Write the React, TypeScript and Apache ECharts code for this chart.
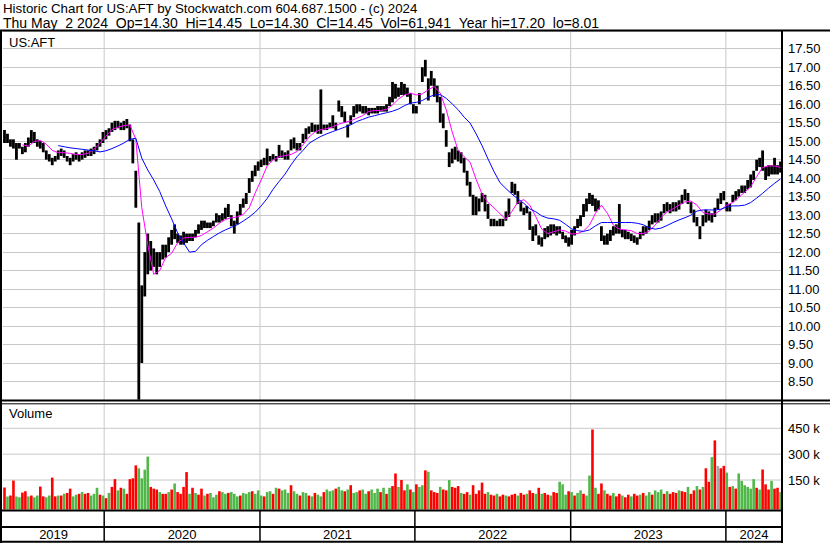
import React, { useEffect, useRef } from 'react';
import * as echarts from 'echarts';

// Weekly price ranges (one entry per week, May 2019 - May 2024)
const weekHigh = [
  15.30, 15.20, 15.05, 15.05, 14.95, 14.95, 14.85, 14.95, 15.10, 15.30,
  15.25, 15.05, 15.00, 14.95, 14.75, 14.65, 14.55, 14.60, 14.75, 14.80,
  14.75, 14.60, 14.55, 14.65, 14.70, 14.65, 14.70, 14.75, 14.75, 14.80,
  14.85, 14.95, 15.05, 15.25, 15.30, 15.35, 15.50, 15.55, 15.55, 15.50,
  15.55, 15.60, 15.45, 15.05, 14.20, 12.80, 11.10, 12.00, 12.50, 12.30,
  12.10, 12.00, 12.00, 12.20, 12.20, 12.40, 12.60, 12.75, 12.50, 12.45,
  12.55, 12.50, 12.50, 12.50, 12.60, 12.75, 12.85, 12.85, 12.80, 12.80,
  12.85, 13.05, 13.00, 13.05, 13.20, 13.30, 13.00, 12.85, 13.10, 13.30,
  13.45, 13.60, 14.00, 14.20, 14.35, 14.45, 14.50, 14.55, 14.80, 14.60,
  14.65, 14.60, 14.90, 14.75, 14.70, 14.75, 15.05, 15.10, 14.95, 14.95,
  15.20, 15.35, 15.40, 15.50, 15.45, 15.45, 16.40, 15.45, 15.45, 15.50,
  15.70, 15.50, 16.10, 15.95, 15.80, 15.45, 15.70, 15.95, 16.00, 16.00,
  15.95, 15.95, 15.90, 15.90, 15.90, 15.95, 15.95, 15.95, 16.00, 16.20,
  16.60, 16.55, 16.45, 16.60, 16.55, 16.45, 16.30, 16.00, 15.95, 16.30,
  17.00, 17.20, 16.70, 16.90, 16.70, 16.50, 16.20, 15.75, 15.30, 14.70,
  14.80, 14.85, 14.75, 14.70, 14.55, 14.20, 13.90, 13.55, 13.50, 13.45,
  13.60, 13.55, 13.30, 12.90, 12.90, 12.85, 12.90, 12.90, 13.10, 13.45,
  13.90, 13.85, 13.65, 13.35, 13.20, 13.25, 13.10, 12.70, 12.75, 12.45,
  12.40, 12.65, 12.70, 12.75, 12.75, 12.70, 12.70, 12.55, 12.45, 12.40,
  12.60, 12.70, 12.90, 13.00, 13.30, 13.45, 13.60, 13.55, 13.45, 13.40,
  12.70, 12.45, 12.50, 12.60, 12.70, 12.75, 13.30, 12.60, 12.60, 12.55,
  12.50, 12.45, 12.40, 12.55, 12.70, 12.70, 12.85, 13.00, 13.05, 13.05,
  13.10, 13.30, 13.35, 13.30, 13.35, 13.35, 13.40, 13.55, 13.70, 13.60,
  13.35, 13.15, 12.95, 12.70, 13.00, 13.15, 13.10, 13.05, 13.20, 13.45,
  13.60, 13.65, 13.35, 13.30, 13.55, 13.65, 13.70, 13.80, 13.80, 13.95,
  14.10, 14.20, 14.50, 14.55, 14.75, 14.30, 14.35, 14.35, 14.55, 14.35,
  14.45,
];

const weekLow = [
  14.95, 14.95, 14.85, 14.80, 14.50, 14.80, 14.65, 14.70, 14.85, 14.95,
  14.95, 14.85, 14.80, 14.70, 14.50, 14.45, 14.35, 14.45, 14.50, 14.60,
  14.55, 14.45, 14.35, 14.45, 14.50, 14.45, 14.50, 14.55, 14.60, 14.60,
  14.65, 14.75, 14.85, 14.95, 15.05, 15.15, 15.25, 15.30, 15.35, 15.30,
  15.30, 15.35, 15.00, 14.40, 13.20, 8.01, 9.00, 10.80, 11.40, 11.50,
  11.60, 11.40, 11.60, 11.80, 11.85, 12.00, 12.20, 12.35, 12.25, 12.20,
  12.20, 12.25, 12.30, 12.30, 12.40, 12.50, 12.60, 12.65, 12.65, 12.65,
  12.70, 12.80, 12.80, 12.85, 12.90, 12.95, 12.70, 12.50, 12.75, 13.00,
  13.20, 13.30, 13.60, 13.90, 14.05, 14.20, 14.30, 14.35, 14.35, 14.45,
  14.50, 14.45, 14.55, 14.55, 14.50, 14.50, 14.75, 14.80, 14.75, 14.75,
  14.95, 15.05, 15.20, 15.25, 15.25, 15.20, 15.20, 15.30, 15.30, 15.35,
  15.35, 15.30, 15.80, 15.65, 15.50, 15.10, 15.45, 15.65, 15.75, 15.80,
  15.75, 15.75, 15.70, 15.75, 15.75, 15.75, 15.80, 15.80, 15.80, 15.95,
  16.05, 16.15, 16.20, 16.25, 16.25, 16.20, 16.00, 15.75, 15.75, 16.00,
  16.60, 16.75, 16.10, 16.50, 16.20, 16.05, 15.50, 15.35, 14.85, 14.30,
  14.40, 14.50, 14.45, 14.40, 14.15, 13.80, 13.50, 13.00, 13.00, 13.10,
  13.35, 13.10, 12.90, 12.70, 12.70, 12.70, 12.70, 12.70, 12.85, 12.95,
  13.60, 13.55, 13.30, 13.10, 13.00, 13.05, 12.60, 12.30, 12.45, 12.20,
  12.15, 12.35, 12.40, 12.45, 12.50, 12.45, 12.50, 12.35, 12.25, 12.15,
  12.20, 12.45, 12.65, 12.70, 12.95, 13.10, 13.30, 13.25, 13.10, 13.15,
  12.30, 12.20, 12.20, 12.30, 12.45, 12.50, 12.50, 12.40, 12.35, 12.35,
  12.30, 12.25, 12.20, 12.35, 12.45, 12.50, 12.60, 12.75, 12.80, 12.80,
  12.85, 13.05, 13.10, 13.05, 13.10, 13.10, 13.15, 13.30, 13.40, 13.30,
  13.05, 12.80, 12.70, 12.35, 12.70, 12.80, 12.85, 12.80, 12.95, 13.15,
  13.30, 13.40, 13.10, 13.10, 13.35, 13.40, 13.50, 13.60, 13.60, 13.70,
  13.75, 13.95, 14.20, 14.30, 14.20, 13.95, 14.05, 14.10, 14.10, 14.10,
  14.15,
];

// Volume per week, in thousands of shares, and the bar colour code (r down, g up, n unchanged)
const weekVolumeK = [
  107, 55, 60, 147, 55, 50, 77, 85, 55, 60,
  50, 60, 112, 55, 50, 60, 164, 55, 60, 60,
  70, 75, 100, 55, 65, 70, 80, 70, 75, 60,
  70, 105, 65, 60, 45, 75, 110, 155, 90, 105,
  100, 70, 155, 160, 235, 218, 160, 210, 286, 110,
  100, 95, 80, 70, 70, 80, 95, 130, 80, 70,
  110, 196, 70, 105, 75, 65, 100, 60, 70, 75,
  50, 65, 85, 80, 70, 75, 80, 70, 55, 60,
  75, 70, 80, 85, 70, 90, 60, 55, 80, 85,
  70, 105, 100, 90, 95, 75, 120, 85, 70, 60,
  80, 75, 60, 55, 75, 65, 55, 80, 95, 85,
  90, 100, 110, 90, 85, 95, 120, 75, 80, 90,
  95, 70, 85, 95, 75, 100, 80, 105, 70, 105,
  115, 188, 110, 150, 90, 125, 95, 80, 125, 110,
  120, 206, 198, 90, 80, 75, 110, 95, 90, 150,
  110, 105, 115, 75, 70, 80, 65, 120, 70, 90,
  135, 70, 80, 65, 60, 70, 55, 65, 60, 55,
  65, 70, 60, 75, 65, 70, 90, 75, 70, 105,
  70, 75, 65, 60, 80, 75, 140, 125, 65, 85,
  80, 60, 75, 90, 70, 60, 176, 443, 105, 70,
  130, 90, 70, 60, 75, 55, 70, 60, 50, 65,
  55, 70, 60, 65, 75, 60, 80, 65, 90, 80,
  95, 70, 85, 70, 80, 75, 90, 85, 80, 110,
  70, 90, 115, 95, 110, 218, 140, 283, 380, 232,
  218, 232, 193, 110, 115, 100, 188, 145, 120, 110,
  100, 155, 105, 95, 211, 125, 95, 145, 100, 105,
  80,
];
const volumeDir =
  'rgrrggrrgr' + 'ggrrggrrgr' + 'grrggrgrrg' + 'ggrgrgrrgr' + 'grrrrggggr' +
  'rrgrrgrgrr' + 'rrgrgrrgrg' + 'ggrggrgggr' + 'gggrgggrgg' + 'rgrgggrggr' +
  'ggrgrggrgg' + 'grggrgrggr' + 'ggrgggrgrg' + 'rrgrrgrgrg' + 'grgrrrgrrg' +
  'rrrgrrgrrr' + 'rrgrrgrrgr' + 'rrgrrgrrgr' + 'grrgrrgggr' + 'grggrggrgr' +
  'rgrrgrrgrr' + 'grrgrggrgg' + 'grgrrrgrrg' + 'rrgrgrrgrn' + 'rrgrgrgggg' +
  'ggrgrrrgrr' + 'g';

const maStep = 2;
const maFastStart = 6;
const maFast = [
  14.90, 14.87, 14.99, 15.02, 14.92, 14.75, 14.69, 14.69, 14.67, 14.64,
  14.64, 14.67, 14.78, 14.94, 15.14, 15.31, 15.38, 15.42, 15.44, 15.05,
  13.20, 12.20, 11.40, 11.50, 11.85, 11.97, 12.25, 12.38, 12.40, 12.40,
  12.45, 12.55, 12.65, 12.78, 12.88, 12.93, 12.95, 13.02, 13.20, 13.60,
  13.95, 14.33, 14.49, 14.58, 14.61, 14.64, 14.72, 14.90, 15.11, 15.25,
  15.31, 15.34, 15.39, 15.46, 15.51, 15.55, 15.62, 15.69, 15.80, 15.83,
  15.83, 15.86, 15.98, 16.14, 16.25, 16.30, 16.25, 16.28, 16.39, 16.48,
  16.30, 15.85, 15.25, 14.75, 14.58, 14.43, 13.97, 13.57, 13.34, 13.20,
  13.04, 12.89, 13.10, 13.35, 13.42, 13.27, 12.96, 12.62, 12.50, 12.55,
  12.60, 12.57, 12.49, 12.50, 12.57, 12.73, 13.05, 13.27, 13.05, 12.73,
  12.62, 12.60, 12.58, 12.50, 12.50, 12.57, 12.73, 12.94, 13.09, 13.17,
  13.27, 13.36, 13.38, 13.27, 13.07, 13.03, 13.03, 13.14, 13.27, 13.34,
  13.48, 13.62, 13.77, 14.04, 14.29, 14.33, 14.33, 14.29,
];
const maSlowStart = 18;
const maSlow = [
  14.88, 14.85, 14.82, 14.80, 14.78, 14.76, 14.74, 14.71, 14.74, 14.80,
  14.87, 14.95, 15.05, 15.08, 14.54, 14.22, 13.95, 13.64, 13.25, 12.90,
  12.52, 12.25, 12.00, 12.02, 12.20, 12.32, 12.42, 12.52, 12.60, 12.67,
  12.74, 12.84, 12.95, 13.08, 13.25, 13.45, 13.70, 13.91, 14.11, 14.36,
  14.58, 14.75, 14.94, 15.04, 15.13, 15.20, 15.26, 15.32, 15.38, 15.44,
  15.53, 15.59, 15.65, 15.69, 15.73, 15.77, 15.81, 15.87, 15.96, 16.03,
  16.05, 16.10, 16.19, 16.25, 16.26, 16.16, 16.01, 15.85, 15.65, 15.49,
  15.20, 14.88, 14.52, 14.18, 13.88, 13.72, 13.57, 13.44, 13.32, 13.17,
  13.09, 12.98, 12.92, 12.90, 12.86, 12.75, 12.63, 12.58, 12.56, 12.60,
  12.71, 12.80, 12.80, 12.80, 12.80, 12.80, 12.80, 12.78, 12.74, 12.66,
  12.62, 12.65, 12.72, 12.80, 12.87, 12.93, 13.00, 13.11, 13.14, 13.14,
  13.14, 13.16, 13.22, 13.25, 13.25, 13.27, 13.34, 13.46, 13.59, 13.73,
  13.86, 13.98,
];

// Calendar: where each year begins, in weeks from the first bar
const yearLabels = ['2019', '2020', '2021', '2022', '2023', '2024'];
const yearBoundaries = [33.4, 85.6, 137.5, 189.7, 241.7];
const volumeTicksK = [150, 300, 450];

const headerLine1 = 'Historic Chart for US:AFT by Stockwatch.com 604.687.1500 - (c) 2024';
const headerLine2 =
  'Thu May \u00a02 2024 \u00a0Op=14.30 \u00a0Hi=14.45 \u00a0Lo=14.30 \u00a0Cl=14.45 \u00a0Vol=61,941 \u00a0Year hi=17.20 \u00a0lo=8.01';

const FONT = "'Liberation Sans', Arial, sans-serif";
const GRID_GRAY = '#c8c8c8';
const volColors: Record<string, string> = { r: '#ff0000', g: '#50b848', n: '#a8a8a8' };

export default function App() {
  const ref = useRef<HTMLDivElement>(null);

  useEffect(() => {
    if (!ref.current) return;
    const chart = echarts.init(ref.current, null, { renderer: 'svg' });
    const nWeeks = weekHigh.length;
    const xMin = -0.5;
    const xMax = nWeeks - 0.5;

    const fastData = maFast.map((v, k) => [maFastStart + k * maStep, v]);
    const slowData = maSlow.map((v, k) => [maSlowStart + k * maStep, v]);
    const cells = yearLabels.map((_, i) => [
      i === 0 ? xMin : yearBoundaries[i - 1],
      i === yearLabels.length - 1 ? xMax : yearBoundaries[i],
    ]);

    const vLine = (color: string, width: number) => (params: any, api: any) => {
      const cs = params.coordSys;
      const x = api.coord([api.value(0), api.value(1)])[0];
      return {
        type: 'line',
        shape: { x1: x, y1: cs.y, x2: x, y2: cs.y + cs.height },
        style: { stroke: color, lineWidth: width },
      };
    };

    const xAxisBase = { type: 'value', min: xMin, max: xMax, show: false };

    const option: any = {
      animation: false,
      backgroundColor: '#ffffff',
      grid: [
        { left: 3, top: 31, width: 779, height: 369 },
        { left: 3, top: 404, width: 779, height: 105.5 },
        { left: 3, top: 510, width: 779, height: 32 },
      ],
      xAxis: [
        { ...xAxisBase, gridIndex: 0 },
        { ...xAxisBase, gridIndex: 1 },
        { ...xAxisBase, gridIndex: 2 },
      ],
      yAxis: [
        {
          gridIndex: 0,
          type: 'value',
          position: 'right',
          min: 8,
          max: 17.98,
          interval: 0.5,
          axisLine: { show: false },
          axisTick: { show: false },
          axisLabel: {
            showMaxLabel: false,
            showMinLabel: false,
            margin: 6,
            color: '#000',
            fontSize: 13,
            fontFamily: FONT,
            formatter: (v: number) => (v > 8.01 && v < 17.9 ? v.toFixed(2) : ''),
          },
          splitLine: { lineStyle: { color: GRID_GRAY, width: 1 } },
        },
        { gridIndex: 1, type: 'value', min: -21000, max: 591000, show: false },
        { gridIndex: 2, type: 'value', min: 0, max: 1, show: false },
      ],
      series: [
        // year gridlines in price panel
        {
          type: 'custom', xAxisIndex: 0, yAxisIndex: 0, z: 1, silent: true,
          data: yearBoundaries.map((b) => [b, 10]),
          encode: { x: 0, y: 1 },
          renderItem: vLine(GRID_GRAY, 1),
        },
        // price bars
        {
          type: 'custom', xAxisIndex: 0, yAxisIndex: 0, z: 3, silent: true,
          data: weekHigh.map((h, i) => [i, h, weekLow[i]]),
          encode: { x: 0, y: [1, 2] },
          renderItem: (params: any, api: any) => {
            const p1 = api.coord([api.value(0), api.value(1)]);
            const p2 = api.coord([api.value(0), api.value(2)]);
            return {
              type: 'rect',
              shape: { x: p1[0] - 1.4, y: p1[1], width: 2.8, height: Math.max(1, p2[1] - p1[1]) },
              style: { fill: '#000000' },
            };
          },
        },
        {
          type: 'line', xAxisIndex: 0, yAxisIndex: 0, z: 4, silent: true,
          data: fastData, showSymbol: false,
          lineStyle: { color: '#ff00ff', width: 1 },
        },
        {
          type: 'line', xAxisIndex: 0, yAxisIndex: 0, z: 4, silent: true,
          data: slowData, showSymbol: false,
          lineStyle: { color: '#0000ff', width: 1 },
        },
        // volume gridlines (vertical)
        {
          type: 'custom', xAxisIndex: 1, yAxisIndex: 1, z: 1, silent: true,
          data: yearBoundaries.map((b) => [b, 0]),
          encode: { x: 0, y: 1 },
          renderItem: vLine(GRID_GRAY, 1),
        },
        // volume gridlines (horizontal) with labels
        {
          type: 'custom', xAxisIndex: 1, yAxisIndex: 1, z: 1, silent: true, clip: false,
          data: volumeTicksK.map((v) => [0, v * 1000]),
          encode: { x: 0, y: 1 },
          renderItem: (params: any, api: any) => {
            const cs = params.coordSys;
            const y = api.coord([0, api.value(1)])[1];
            return {
              type: 'group',
              children: [
                {
                  type: 'line',
                  shape: { x1: cs.x, y1: y, x2: cs.x + cs.width, y2: y },
                  style: { stroke: GRID_GRAY, lineWidth: 1 },
                },
                {
                  type: 'text',
                  x: cs.x + cs.width + 6,
                  y: y,
                  style: {
                    text: api.value(1) / 1000 + ' k',
                    fill: '#000', fontSize: 13, fontFamily: FONT,
                    align: 'left', verticalAlign: 'middle',
                  },
                },
              ],
            };
          },
        },
        // volume bars
        {
          type: 'custom', xAxisIndex: 1, yAxisIndex: 1, z: 3, silent: true,
          data: weekVolumeK.map((v, i) => [i, v * 1000]),
          encode: { x: 0, y: 1 },
          renderItem: (params: any, api: any) => {
            const cs = params.coordSys;
            const p = api.coord([api.value(0), api.value(1)]);
            const bottom = cs.y + cs.height;
            return {
              type: 'rect',
              shape: { x: p[0] - 1.3, y: p[1], width: 2.6, height: bottom - p[1] },
              style: { fill: volColors[volumeDir[params.dataIndex]] || '#a8a8a8' },
            };
          },
        },
        // year label row
        {
          type: 'custom', xAxisIndex: 2, yAxisIndex: 2, z: 3, silent: true, clip: false,
          data: cells,
          encode: { x: [0, 1] },
          renderItem: (params: any, api: any) => {
            const cs = params.coordSys;
            const x0 = api.coord([api.value(0), 0])[0];
            const x1 = api.coord([api.value(1), 0])[0];
            const children: any[] = [
              {
                type: 'text',
                x: (x0 + x1) / 2,
                y: cs.y + 24.5,
                style: {
                  text: yearLabels[params.dataIndex],
                  fill: '#000', fontSize: 13, fontFamily: FONT,
                  align: 'center', verticalAlign: 'middle',
                },
              },
            ];
            if (params.dataIndex > 0) {
              children.push({
                type: 'line',
                shape: { x1: x0, y1: cs.y, x2: x0, y2: cs.y + cs.height },
                style: { stroke: '#000', lineWidth: 1.5 },
              });
            }
            return { type: 'group', children };
          },
        },
      ],
      graphic: [
        { type: 'text', x: 3, y: 8, z: 100, style: { text: headerLine1, fill: '#000', fontSize: 13.3, fontFamily: FONT, verticalAlign: 'middle', lineHeight: 13 } },
        { type: 'text', x: 3, y: 22.5, z: 100, style: { text: headerLine2, fill: '#000', fontSize: 14, fontFamily: FONT, verticalAlign: 'middle', lineHeight: 13 } },
        { type: 'text', x: 9, y: 42, z: 100, style: { text: 'US:AFT', fill: '#000', fontSize: 13, fontFamily: FONT, verticalAlign: 'middle' } },
        { type: 'text', x: 9, y: 413, z: 100, style: { text: 'Volume', fill: '#000', fontSize: 13, fontFamily: FONT, verticalAlign: 'middle' } },
        { type: 'line', z: 100, shape: { x1: 0, y1: 30.5, x2: 830, y2: 30.5 }, style: { stroke: '#000', lineWidth: 2 } },
        { type: 'line', z: 100, shape: { x1: 1, y1: 30, x2: 1, y2: 543 }, style: { stroke: '#000', lineWidth: 2 } },
        { type: 'line', z: 100, shape: { x1: 782, y1: 30, x2: 782, y2: 543 }, style: { stroke: '#000', lineWidth: 2 } },
        { type: 'line', z: 100, shape: { x1: 0, y1: 400.5, x2: 830, y2: 400.5 }, style: { stroke: '#000', lineWidth: 2 } },
        { type: 'line', z: 100, shape: { x1: 0, y1: 403.8, x2: 830, y2: 403.8 }, style: { stroke: '#000', lineWidth: 1 } },
        { type: 'line', z: 100, shape: { x1: 0, y1: 510.5, x2: 782, y2: 510.5 }, style: { stroke: '#000', lineWidth: 2 } },
        { type: 'line', z: 100, shape: { x1: 0, y1: 527, x2: 782, y2: 527 }, style: { stroke: '#000', lineWidth: 2 } },
        { type: 'line', z: 100, shape: { x1: 0, y1: 541.8, x2: 782, y2: 541.8 }, style: { stroke: '#000', lineWidth: 2 } },
      ],
    };

    chart.setOption(option);
    return () => chart.dispose();
  }, []);

  return (
    <div
      ref={ref}
      style={{ position: 'absolute', left: 0, top: 0, width: 830, height: 543 }}
    />
  );
}
